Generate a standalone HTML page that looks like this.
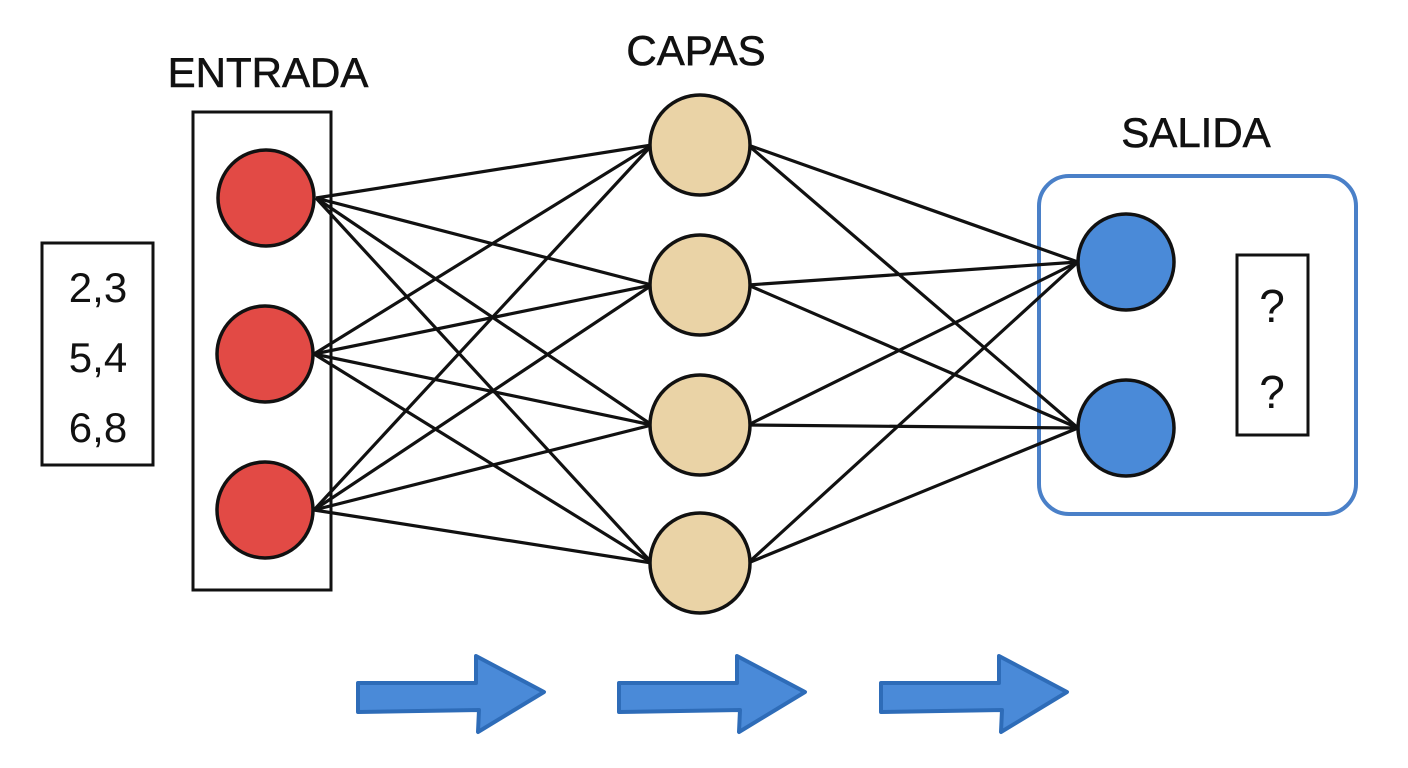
<!DOCTYPE html>
<html><head><style>body{margin:0;background:#fff}svg{display:block}</style></head><body>
<svg width="1408" height="768" viewBox="0 0 1408 768" xmlns="http://www.w3.org/2000/svg">
<rect width="1408" height="768" fill="#fff"/>
<g font-family="'Liberation Sans',sans-serif" fill="#111" font-size="42" text-anchor="middle" stroke="#111" stroke-width="0.6">
<text x="268" y="87">ENTRADA</text>
<text x="696" y="65">CAPAS</text>
<text x="1196" y="147">SALIDA</text>
</g>
<g font-family="'Liberation Sans',sans-serif" fill="#111" font-size="42" text-anchor="middle">
<text x="98" y="302">2,3</text>
<text x="98" y="372">5,4</text>
<text x="98" y="442">6,8</text>
<text x="1272" y="322" font-size="46">?</text>
<text x="1272" y="408" font-size="46">?</text>
</g>
<g fill="none" stroke="#111" stroke-width="3">
<rect x="193" y="112" width="138" height="478"/>
<rect x="42" y="243" width="111" height="222"/>
<rect x="1237" y="255" width="71" height="180"/>
</g>
<rect x="1039" y="176" width="317" height="338" rx="30" fill="none" stroke="#4a80c8" stroke-width="4"/>
<g stroke="#111" stroke-width="3.2">
<line x1="316" y1="198" x2="652" y2="145"/><line x1="316" y1="198" x2="652" y2="285"/><line x1="316" y1="198" x2="652" y2="425"/><line x1="316" y1="198" x2="652" y2="563"/>
<line x1="314" y1="354" x2="652" y2="145"/><line x1="314" y1="354" x2="652" y2="285"/><line x1="314" y1="354" x2="652" y2="425"/><line x1="314" y1="354" x2="652" y2="563"/>
<line x1="314" y1="510" x2="652" y2="145"/><line x1="314" y1="510" x2="652" y2="285"/><line x1="314" y1="510" x2="652" y2="425"/><line x1="314" y1="510" x2="652" y2="563"/>
<line x1="748" y1="145" x2="1078" y2="262"/><line x1="748" y1="145" x2="1078" y2="428"/>
<line x1="748" y1="285" x2="1078" y2="262"/><line x1="748" y1="285" x2="1078" y2="428"/>
<line x1="748" y1="425" x2="1078" y2="262"/><line x1="748" y1="425" x2="1078" y2="428"/>
<line x1="748" y1="563" x2="1078" y2="262"/><line x1="748" y1="563" x2="1078" y2="428"/>
</g>
<g stroke="#111" stroke-width="3.5">
<circle cx="266" cy="198" r="48" fill="#e24a45"/>
<circle cx="265" cy="354" r="48" fill="#e24a45"/>
<circle cx="265" cy="510" r="48" fill="#e24a45"/>
<circle cx="700" cy="145" r="50" fill="#ead3a6"/>
<circle cx="700" cy="285" r="50" fill="#ead3a6"/>
<circle cx="700" cy="425" r="50" fill="#ead3a6"/>
<circle cx="700" cy="563" r="50" fill="#ead3a6"/>
<circle cx="1126" cy="262" r="48" fill="#4a8ad8"/>
<circle cx="1126" cy="428" r="48" fill="#4a8ad8"/>
</g>
<g fill="#4a8ad8" stroke="#2e6cb8" stroke-width="4" stroke-linejoin="round">
<polygon points="358,683 476,683 476,656 544,692 478,732 479,710 358,712"/>
<polygon points="619,683 737,683 737,656 805,692 739,732 740,710 619,712"/>
<polygon points="881,683 999,683 999,656 1067,692 1001,732 1002,710 881,712"/>
</g>
</svg>
</body></html>
